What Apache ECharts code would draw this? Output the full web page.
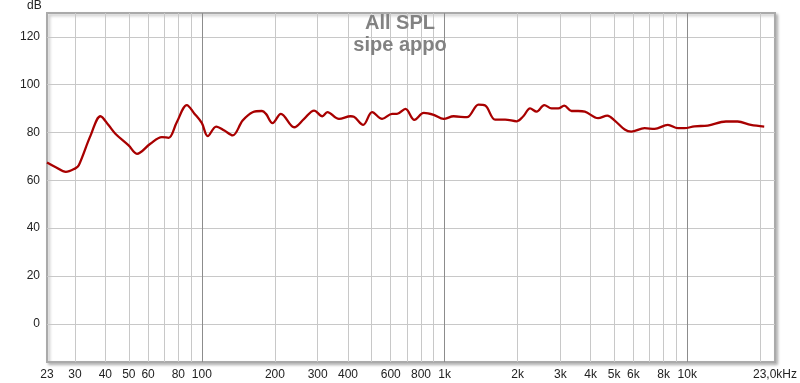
<!DOCTYPE html>
<html>
<head>
<meta charset="utf-8">
<script src="https://cdn.jsdelivr.net/npm/echarts@6/dist/echarts.min.js"></script>
<style>html,body{margin:0;padding:0;background:#fff}#c{width:800px;height:383px}</style>
</head>
<body>
<div id="c"></div>
<script>
const titleLines = ['All SPL', 'sipe appo'];
const freqHz = [23, 25, 27.5, 30.2, 31.1, 34.8, 38.2, 41.3, 44, 49.9, 54, 61.3, 68.4, 72.9, 78.8, 86.7, 93, 99.9,
  105.7, 114.5, 123.8, 133.9, 147.2, 161.8, 176.8, 183.7, 195.5, 211.7, 240, 263.8, 290, 313.6, 328.8, 367.3, 410.2,
  423, 462, 503, 553, 608, 637, 690, 751, 821, 902, 991, 1090, 1236, 1380, 1471, 1616, 1777, 1983, 2112, 2251, 2395,
  2576, 2761, 2942, 3113, 3336, 3553, 3786, 4293, 4687, 5027, 5526, 5881, 6675, 7337, 8321, 9148, 9745, 10712,
  12150, 14440, 16131, 18297, 20766];
const splDb = [67.5, 65.5, 63.5, 65.1, 66.3, 78.8, 86.8, 83.0, 79.5, 74.6, 71.1, 75.3, 78.1, 77.8, 84.3, 91.5, 88, 84,
  78.5, 82.5, 80.8, 78.8, 85, 88.5, 89, 87.8, 83.9, 87.8, 82.2, 85.7, 89.2, 86.8, 88.5, 85.7, 86.8,
  86.6, 83.2, 88.5, 85.7, 87.8, 87.8, 89.9, 85.3, 88.2, 87.4, 85.7, 86.8, 86.4, 91.7, 91.3, 85.4, 85.4, 84.7, 86.8, 90.1, 88.75,
  91.5, 90.1, 90.1, 91.25, 89, 89, 88.75, 86, 87.1, 85, 81.25, 80.4, 81.8, 81.5, 83.2, 81.8, 81.8, 82.6,
  82.9, 84.6, 84.6, 83.2, 82.5];
const xGridHz = [30, 40, 50, 60, 70, 80, 90, 100, 200, 300, 400, 500, 600, 700, 800, 900, 1000,
  2000, 3000, 4000, 5000, 6000, 7000, 8000, 9000, 10000, 20000];
const xMajorHz = [100, 1000, 10000];
const xLabelHz = [23, 30, 40, 50, 60, 80, 100, 200, 300, 400, 600, 800, 1000, 2000, 3000, 4000, 5000, 6000, 8000, 10000, 23000];
const yTicks = [0, 20, 40, 60, 80, 100, 120];

const chart = echarts.init(document.getElementById('c'), null, {renderer: 'canvas'});
const FONT = 'Liberation Sans, Arial, sans-serif';
const splitColors = xGridHz.map(v => xMajorHz.includes(v) ? '#8c8c8c' : '#c8c8c8');
function fmtHz(v) {
  v = Math.round(v);
  if (v >= 23000) return '23,0kHz';
  if (v >= 1000) return (v / 1000) + 'k';
  return String(v);
}
chart.setOption({
  animation: false,
  backgroundColor: '#fff',
  title: {
    text: titleLines.join('\n'), left: 'center', top: 12, padding: 0,
    textStyle: {fontFamily: FONT, fontSize: 20, fontWeight: 'bold', color: '#828282', lineHeight: 22}
  },
  graphic: [{type: 'text', left: 27, top: 0, style: {text: 'dB', font: '12px ' + FONT, fill: '#222'}}],
  grid: {left: 47, right: 21, top: 13, bottom: 21, show: true, backgroundColor: '#fff',
    borderColor: '#aaaaaa', borderWidth: 2, shadowColor: 'rgba(0,0,0,0.25)', shadowBlur: 3, shadowOffsetX: 2, shadowOffsetY: 2},
  xAxis: {
    type: 'log', logBase: 10, min: 23, max: 23000,
    axisLine: {show: false},
    axisTick: {show: false, customValues: xGridHz},
    splitLine: {show: true, lineStyle: {color: splitColors, width: 1}},
    minorSplitLine: {show: false},
    axisLabel: {customValues: xLabelHz, formatter: fmtHz, margin: 7, color: '#222', fontSize: 12, fontFamily: FONT,
      showMinLabel: true, showMaxLabel: true, hideOverlap: false}
  },
  yAxis: {
    type: 'value', min: -16, max: 130,
    axisLine: {show: false},
    axisTick: {show: false, customValues: yTicks},
    splitLine: {show: true, lineStyle: {color: '#c8c8c8', width: 1}},
    axisLabel: {customValues: yTicks, margin: 7, color: '#222', fontSize: 12, fontFamily: FONT}
  },
  series: [{
    type: 'line', data: freqHz.map((f, i) => [f, splDb[i]]), smooth: 0.35, symbol: 'none',
    lineStyle: {color: '#a80000', width: 2.3}, z: 5
  }]
});
</script>
</body>
</html>
